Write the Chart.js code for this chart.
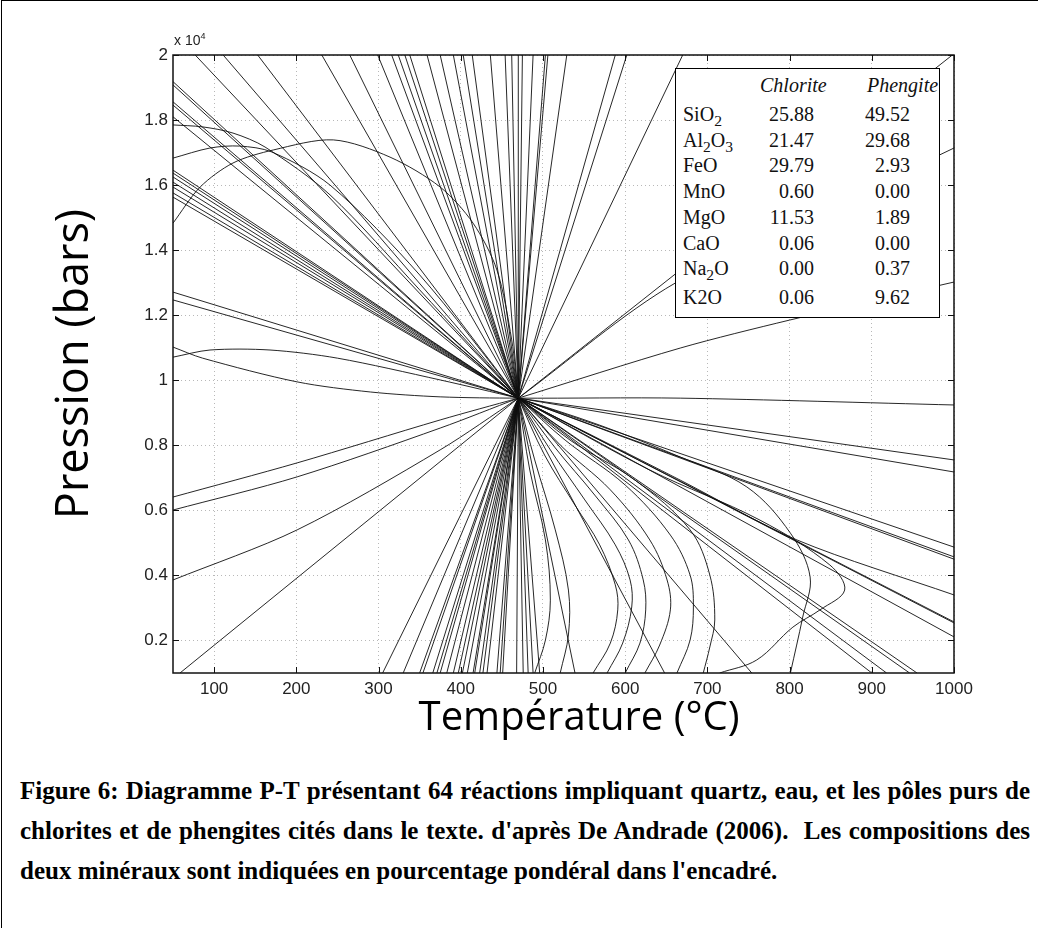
<!DOCTYPE html>
<html lang="fr">
<head>
<meta charset="utf-8">
<title>Diagramme P-T</title>
<script src="https://cdn.jsdelivr.net/npm/chart.js@4.4.1/dist/chart.umd.min.js"></script>
<style>
  html, body { margin: 0; padding: 0; background: #fff; }
  #page { position: relative; width: 1038px; height: 928px; overflow: hidden; background: #fff; }
  #bord { position: absolute; left: 1px; top: 0; width: 1040px; height: 930px; border-left: 1.5px solid #000; border-top: 1.5px solid #000; }
  #graphe { position: absolute; left: 0; top: 0; }
  #puissance { position: absolute; left: 174px; top: 31px; font: 14px "Liberation Sans", Arial, sans-serif; color: #222; }
  #puissance sup { font-size: 9px; }
  #encadre { position: absolute; left: 675px; top: 68px; width: 265px; height: 250px; box-sizing: border-box;
             border: 1.5px solid #000; background: #fff; font: 20px "Liberation Serif", "Times New Roman", serif; color: #111; }
  #encadre .ligne { position: absolute; left: 0; width: 100%; height: 24px; line-height: 24px; }
  #encadre .nom { position: absolute; left: 7px; }
  #encadre .v1 { position: absolute; right: 125px; }
  #encadre .v2 { position: absolute; right: 29px; }
  #encadre .t1 { position: absolute; left: 84px; font-style: italic; }
  #encadre .t2 { position: absolute; left: 191px; font-style: italic; }
  #encadre sub { font-size: 0.78em; vertical-align: -0.35em; line-height: 0; }
  #legende { position: absolute; left: 20px; top: 771px; width: 1010px; font: bold 25px "Liberation Serif", "Times New Roman", serif; color: #000; }
  #legende .l { height: 40px; line-height: 40px; white-space: nowrap; }
  #legende .j { text-align: justify; text-align-last: justify; }
</style>
</head>
<body>
<div id="page">
  <canvas id="graphe" width="1038" height="760"></canvas>
  <div id="puissance">x 10<sup>4</sup></div>
  <div id="encadre"></div>
  <div id="legende">
    <div class="l j">Figure 6: Diagramme P-T présentant 64 réactions impliquant quartz, eau, et les pôles purs de</div>
    <div class="l j">chlorites et de phengites cités dans le texte. d'après De Andrade (2006).&nbsp; Les compositions des</div>
    <div class="l">deux minéraux sont indiquées en pourcentage pondéral dans l'encadré.</div>
  </div>
  <div id="bord"></div>
</div>
<script>
// graduations
const ticksT = [100, 200, 300, 400, 500, 600, 700, 800, 900, 1000];
const ticksP = [0.2, 0.4, 0.6, 0.8, 1, 1.2, 1.4, 1.6, 1.8, 2];

// point invariant (T en °C, P en 10^4 bars)
const pointInvariant = [470, 0.945];

// droites qui partent du point invariant et sortent par un bord
const finsHaut = [77, 111, 153, 231, 265, 299, 316, 324, 332, 338, 359, 375, 391, 403, 414, 436,
                  454, 462, 470, 475, 488, 503, 506, 529, 588, 602, 670, 998];           // P = 2
const finsGauche = [1.918, 1.908, 1.856, 1.846, 1.81, 1.646, 1.637, 1.625, 1.609, 1.594,
                    1.576, 1.563, 1.271, 1.247];                                         // T = 50
const finsDroite = [0.755, 0.718, 0.487, 0.457, 0.450, 0.257, 0.254, 0.211];            // T = 1000
const finsBas = [58.5, 305, 330, 350, 354, 366, 371, 375, 383, 391, 397, 402, 408, 415, 417, 423,
                 427, 432, 444, 448, 451, 468, 476, 482, 488, 496, 539, 648, 754, 900, 918, 946, 955]; // P = 0.1

// réactions courbes [T, P]
const courbeA = [[50, 1.785], [86, 1.779], [123, 1.76], [162, 1.717], [241, 1.57], [350, 1.278], [470, 0.945]];
const courbeB = [[50, 1.683], [95, 1.714], [131, 1.72], [170, 1.702], [241, 1.6], [350, 1.324], [470, 0.945]];
const dome = [[50, 1.483], [83, 1.594], [123, 1.668], [172, 1.708], [245, 1.739], [314, 1.686], [375, 1.594],
              [415, 1.483], [444, 1.339], [462, 1.124], [470, 0.945]];
const arcF = [[50, 1.071], [95, 1.093], [168, 1.093], [250, 1.068], [375, 1.001], [470, 0.945]];
const courbeG = [[50, 1.102], [86, 1.068], [201, 0.995], [290, 0.964], [375, 0.949], [470, 0.945], [667, 0.945], [1000, 0.924]];
const courbesGauche = [
  [[50, 0.641], [201, 0.746], [375, 0.878], [470, 0.945]],
  [[50, 0.601], [201, 0.703], [375, 0.853], [470, 0.945]],
  [[50, 0.386], [201, 0.540], [375, 0.786], [470, 0.945]]
];
const courbesDroite = [
  [[470, 0.945], [661, 1.299], [1000, 1.714]],
  [[470, 0.945], [667, 1.099], [800, 1.185], [1000, 1.302]],
  [[470, 0.945], [667, 0.693], [809, 0.509], [1000, 0.340]]
];
const boucles = [
  [[470, 0.945], [502, 0.770], [539, 0.616], [569, 0.494], [588, 0.371], [591, 0.294], [582, 0.192], [561, 0.1]],
  [[470, 0.945], [509, 0.786], [551, 0.632], [588, 0.494], [606, 0.386], [608, 0.303], [597, 0.192], [578, 0.1]],
  [[470, 0.945], [515, 0.792], [563, 0.647], [604, 0.509], [622, 0.386], [625, 0.294], [618, 0.192], [600, 0.1]],
  [[470, 0.945], [521, 0.801], [582, 0.663], [630, 0.509], [651, 0.386], [655, 0.294], [642, 0.186], [624, 0.1]],
  [[470, 0.945], [527, 0.816], [600, 0.678], [655, 0.524], [679, 0.401], [683, 0.303], [679, 0.201], [663, 0.1]],
  [[470, 0.945], [533, 0.816], [612, 0.693], [679, 0.540], [703, 0.401], [709, 0.263], [703, 0.180], [695, 0.1]],
  [[470, 0.945], [569, 0.862], [667, 0.764], [748, 0.672], [801, 0.530], [825, 0.395], [816, 0.272], [801, 0.1]],
  [[470, 0.945], [484, 0.724], [503, 0.509], [509, 0.324], [503, 0.201], [490, 0.1]],
  [[470, 0.945], [490, 0.755], [515, 0.540], [531, 0.355], [531, 0.217], [521, 0.1]],
  [[470, 0.945], [630, 0.724], [764, 0.570], [849, 0.432], [867, 0.355], [837, 0.294], [804, 0.241], [760, 0.140], [715, 0.1]]
];

// encadré des compositions
const oxydes = ['SiO<sub>2</sub>', 'Al<sub>2</sub>O<sub>3</sub>', 'FeO', 'MnO', 'MgO', 'CaO', 'Na<sub>2</sub>O', 'K2O'];
const chlorite = ['25.88', '21.47', '29.79', '0.60', '11.53', '0.06', '0.00', '0.06'];
const phengite = ['49.52', '29.68', '2.93', '0.00', '1.89', '0.00', '0.37', '9.62'];

(function remplirEncadre() {
    let boite = document.getElementById('encadre');
    let tete = document.createElement('div');
    tete.className = 'ligne';
    tete.style.top = '4px';
    tete.innerHTML = '<span class="t1">Chlorite</span><span class="t2">Phengite</span>';
    boite.appendChild(tete);
    oxydes.forEach((nom, i) => {
        let ligne = document.createElement('div');
        ligne.className = 'ligne';
        ligne.style.top = (i < 7 ? 33 + i * 25.7 : 216) + 'px';
        ligne.innerHTML = '<span class="nom">' + nom + '</span><span class="v1">' + chlorite[i] +
                          '</span><span class="v2">' + phengite[i] + '</span>';
        boite.appendChild(ligne);
    });
})();

// toutes les réactions sous forme de listes de points
const traces = [];
finsHaut.forEach(t => traces.push({ pts: [pointInvariant, [t, 2]], tension: 0 }));
finsGauche.forEach(p => traces.push({ pts: [[50, p], pointInvariant], tension: 0 }));
finsDroite.forEach(p => traces.push({ pts: [pointInvariant, [1000, p]], tension: 0 }));
finsBas.forEach(t => traces.push({ pts: [pointInvariant, [t, 0.1]], tension: 0 }));
[courbeA, courbeB, dome, arcF, courbeG].concat(courbesGauche, courbesDroite)
    .forEach(c => traces.push({ pts: c, tension: 0.3 }));
boucles.forEach(c => traces.push({ pts: c, tension: 0.35 }));

const datasets = traces.map(tr => ({
    data: tr.pts.map(p => ({ x: p[0], y: p[1] })),
    borderColor: 'rgba(15,15,15,0.9)',
    borderWidth: 1,
    pointRadius: 0,
    fill: false,
    tension: tr.tension
}));

// cadre noir et petites graduations vers l'intérieur
const cadre = {
    id: 'cadre',
    afterDatasetsDraw(chart) {
        const { ctx, chartArea: { left, top, right, bottom }, scales: { x, y } } = chart;
        ctx.save();
        ctx.strokeStyle = '#111';
        ctx.lineWidth = 1;
        ctx.beginPath();
        ticksT.forEach(v => {
            let px = Math.round(x.getPixelForValue(v)) + 0.5;
            ctx.moveTo(px, bottom); ctx.lineTo(px, bottom - 6);
            ctx.moveTo(px, top); ctx.lineTo(px, top + 6);
        });
        ticksP.forEach(v => {
            let py = Math.round(y.getPixelForValue(v)) + 0.5;
            ctx.moveTo(left, py); ctx.lineTo(left + 6, py);
            ctx.moveTo(right, py); ctx.lineTo(right - 6, py);
        });
        ctx.stroke();
        ctx.lineWidth = 1.5;
        ctx.strokeRect(left, top, right - left, bottom - top);
        ctx.restore();
    }
};

const policeTicks = { family: "'Liberation Sans', Arial, sans-serif", size: 17 };

new Chart(document.getElementById('graphe'), {
    type: 'line',
    data: { datasets: datasets },
    options: {
        responsive: false,
        animation: false,
        devicePixelRatio: 1,
        layout: { padding: { top: 55, right: 84, left: 0, bottom: 0 } },
        plugins: { legend: { display: false }, tooltip: { enabled: false } },
        scales: {
            x: {
                type: 'linear', min: 50, max: 1000,
                afterBuildTicks: s => { s.ticks = ticksT.map(v => ({ value: v })); },
                afterFit: s => { s.height = 87; },
                ticks: { font: policeTicks, color: '#222', padding: 6, maxRotation: 0, autoSkip: false, callback: v => String(v) },
                grid: { color: '#b8b8b8', drawTicks: false, lineWidth: 1 },
                border: { display: false, dash: [1, 3] },
                // espaces en tête : le titre est un peu décalé vers la droite dans l'original
                title: { display: true, text: '   Température (°C)', font: { family: "'Open Sans', sans-serif", size: 40 },
                         color: '#000', padding: { top: 0, bottom: 17 } }
            },
            y: {
                type: 'linear', min: 0.1, max: 2,
                afterBuildTicks: s => { s.ticks = ticksP.map(v => ({ value: v })); },
                afterFit: s => { s.width = 173; },
                ticks: { font: policeTicks, color: '#222', padding: 5, autoSkip: false, callback: v => String(v) },
                grid: { color: '#b8b8b8', drawTicks: false, lineWidth: 1 },
                border: { display: false, dash: [1, 3] },
                title: { display: true, text: 'Pression (bars)', font: { family: "'Open Sans', sans-serif", size: 45 },
                         color: '#000', padding: { top: 48, bottom: 0 } }
            }
        }
    },
    plugins: [cadre]
});
</script>
</body>
</html>
